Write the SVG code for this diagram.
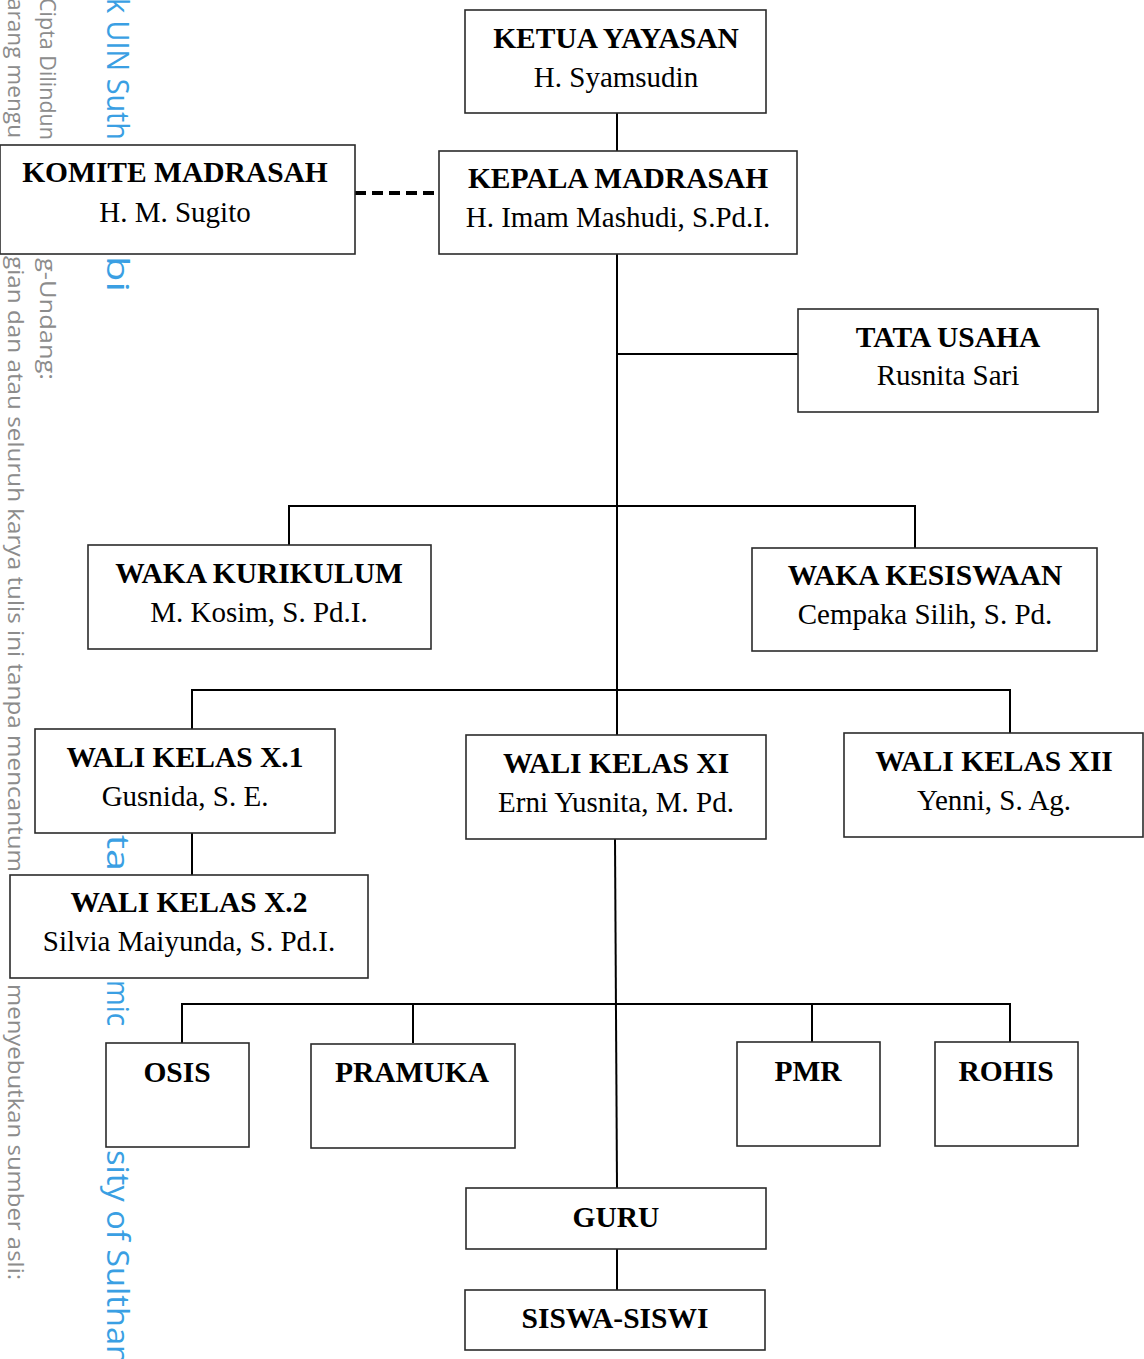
<svg xmlns="http://www.w3.org/2000/svg" width="1144" height="1359" viewBox="0 0 1144 1359">
<style>
.wm{font-family:"Open Sans","Liberation Sans",sans-serif;font-size:22px;fill:#8c8c8c}
.wb{font-family:"Open Sans","Liberation Sans",sans-serif;font-size:31px;fill:#3a9fe3}
.box{fill:#fff;stroke:#2b2b2b;stroke-width:1.6}
.t{font-family:"Liberation Serif","Times New Roman",serif;font-size:29.5px;fill:#000;text-anchor:middle;font-weight:bold}
.s{font-family:"Liberation Serif","Times New Roman",serif;font-size:29px;fill:#000;text-anchor:middle}
.ln{stroke:#000;stroke-width:2;fill:none}
.dash{stroke:#000;stroke-width:4;stroke-dasharray:11 6;fill:none}
</style>
<rect width="1144" height="1359" fill="#fff"/>
<g id="watermark">
<text class="wm" transform="translate(40,-2) rotate(90)" textLength="142" lengthAdjust="spacingAndGlyphs">Cipta Dilindun</text>
<text class="wm" transform="translate(40,258) rotate(90)" textLength="122" lengthAdjust="spacingAndGlyphs">g-Undang:</text>
<text class="wm" transform="translate(8,-2) rotate(90)" textLength="140" lengthAdjust="spacingAndGlyphs">arang mengu</text>
<text class="wm" transform="translate(8,256) rotate(90)" textLength="616" lengthAdjust="spacingAndGlyphs">gian dan atau seluruh karya tulis ini tanpa mencantum</text>
<text class="wm" transform="translate(8,984) rotate(90)" textLength="296" lengthAdjust="spacingAndGlyphs">menyebutkan sumber asli:</text>
<text class="wb" transform="translate(107,-2) rotate(90)" textLength="142" lengthAdjust="spacingAndGlyphs">k UIN Suth</text>
<text class="wb" transform="translate(107,256) rotate(90)" textLength="36" lengthAdjust="spacingAndGlyphs">bi</text>
<text class="wb" transform="translate(107,835) rotate(90)" textLength="36" lengthAdjust="spacingAndGlyphs">ta</text>
<text class="wb" transform="translate(107,980) rotate(90)" textLength="46" lengthAdjust="spacingAndGlyphs">mic</text>
<text class="wb" transform="translate(107,1150) rotate(90)" textLength="215" lengthAdjust="spacingAndGlyphs">sity of Sulthan</text>
</g>
<g id="connectors">
<line class="ln" x1="617" y1="113" x2="617" y2="151"/>
<line class="dash" x1="355" y1="193" x2="439" y2="193"/>
<line class="ln" x1="617" y1="254" x2="617" y2="735"/>
<line class="ln" x1="617" y1="354" x2="798" y2="354"/>
<polyline class="ln" points="289,545 289,506 915,506 915,548"/>
<polyline class="ln" points="192,729 192,690 1010,690 1010,733"/>
<line class="ln" x1="192" y1="833" x2="192" y2="875"/>
<line class="ln" x1="615" y1="839" x2="617" y2="1188"/>
<polyline class="ln" points="182,1043 182,1004 1010,1004 1010,1042"/>
<line class="ln" x1="413" y1="1004" x2="413" y2="1043"/>
<line class="ln" x1="812" y1="1004" x2="812" y2="1042"/>
<line class="ln" x1="617" y1="1249" x2="617" y2="1290"/>
</g>
<g id="ketua"><rect class="box" x="465" y="10" width="301" height="103"/><text class="t" x="616" y="48">KETUA YAYASAN</text><text class="s" x="616" y="87">H. Syamsudin</text></g>
<g id="komite"><rect class="box" x="0" y="145" width="355" height="109"/><text class="t" x="175" y="182">KOMITE MADRASAH</text><text class="s" x="175" y="222">H. M. Sugito</text></g>
<g id="kepala"><rect class="box" x="439" y="151" width="358" height="103"/><text class="t" x="618" y="188">KEPALA MADRASAH</text><text class="s" x="618" y="227">H. Imam Mashudi, S.Pd.I.</text></g>
<g id="tata-usaha"><rect class="box" x="798" y="309" width="300" height="103"/><text class="t" x="948" y="347">TATA USAHA</text><text class="s" x="948" y="385">Rusnita Sari</text></g>
<g id="waka-kurikulum"><rect class="box" x="88" y="545" width="343" height="104"/><text class="t" x="259" y="583">WAKA KURIKULUM</text><text class="s" x="259" y="622">M. Kosim, S. Pd.I.</text></g>
<g id="waka-kesiswaan"><rect class="box" x="752" y="548" width="345" height="103"/><text class="t" x="925" y="585">WAKA KESISWAAN</text><text class="s" x="925" y="624">Cempaka Silih, S. Pd.</text></g>
<g id="wali-x1"><rect class="box" x="35" y="729" width="300" height="104"/><text class="t" x="185" y="767">WALI KELAS X.1</text><text class="s" x="185" y="806">Gusnida, S. E.</text></g>
<g id="wali-xi"><rect class="box" x="466" y="735" width="300" height="104"/><text class="t" x="616" y="773">WALI KELAS XI</text><text class="s" x="616" y="812">Erni Yusnita, M. Pd.</text></g>
<g id="wali-xii"><rect class="box" x="844" y="733" width="299" height="104"/><text class="t" x="994" y="771">WALI KELAS XII</text><text class="s" x="994" y="810">Yenni, S. Ag.</text></g>
<g id="wali-x2"><rect class="box" x="10" y="875" width="358" height="103"/><text class="t" x="189" y="912">WALI KELAS X.2</text><text class="s" x="189" y="951">Silvia Maiyunda, S. Pd.I.</text></g>
<g id="osis"><rect class="box" x="106" y="1043" width="143" height="104"/><text class="t" x="177" y="1082">OSIS</text></g>
<g id="pramuka"><rect class="box" x="311" y="1044" width="204" height="104"/><text class="t" x="412" y="1082">PRAMUKA</text></g>
<g id="pmr"><rect class="box" x="737" y="1042" width="143" height="104"/><text class="t" x="808" y="1081">PMR</text></g>
<g id="rohis"><rect class="box" x="935" y="1042" width="143" height="104"/><text class="t" x="1006" y="1081">ROHIS</text></g>
<g id="guru"><rect class="box" x="466" y="1188" width="300" height="61"/><text class="t" x="616" y="1227">GURU</text></g>
<g id="siswa"><rect class="box" x="465" y="1290" width="300" height="60"/><text class="t" x="615" y="1328">SISWA-SISWI</text></g>
</svg>
